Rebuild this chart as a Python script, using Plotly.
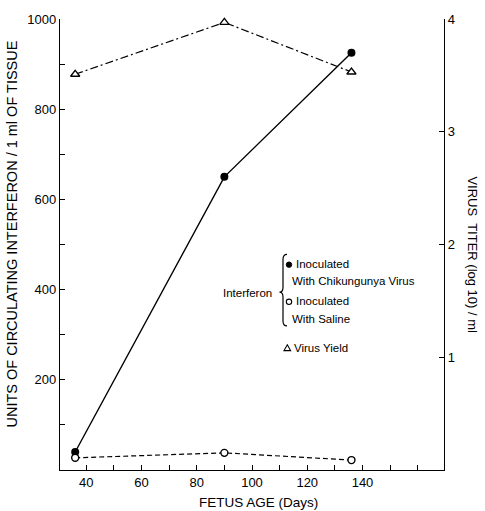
import plotly.graph_objects as go

# ---- data ----
fetus_age_days = [36, 90, 136]
interferon_chikungunya = [40, 650, 925]
interferon_saline = [27, 38, 22]
virus_yield_log10 = [3.51, 3.97, 3.53]

x_major_ticks = [40, 60, 80, 100, 120, 140]
y_left_ticks = [200, 400, 600, 800, 1000]
y_right_ticks = [1, 2, 3, 4]

FONT = "Liberation Sans, Arial, sans-serif"
W, H = 485, 511
L, R, T, B = 60, 41, 16, 41
PW, PH = W - L - R, H - T - B


def px(xp):
    return (xp - L) / PW


def py(yp):
    return (H - B - yp) / PH


fig = go.Figure()

fig.add_trace(go.Scatter(
    x=fetus_age_days, y=interferon_chikungunya, mode="lines+markers",
    line=dict(color="black", width=1.4),
    marker=dict(symbol="circle", size=8, color="black"),
    showlegend=False, cliponaxis=False))

fig.add_trace(go.Scatter(
    x=fetus_age_days, y=interferon_saline, mode="lines+markers",
    line=dict(color="black", width=1.2, dash="5px,3px"),
    marker=dict(symbol="circle", size=7, color="white",
                line=dict(color="black", width=1.4)),
    showlegend=False, cliponaxis=False))

fig.add_trace(go.Scatter(
    x=fetus_age_days, y=virus_yield_log10, mode="lines+markers", yaxis="y2",
    line=dict(color="black", width=1.2, dash="8px,3px,2px,3px"),
    marker=dict(symbol="triangle-up", size=8, color="white",
                line=dict(color="black", width=1.3)),
    showlegend=False, cliponaxis=False))

axis_common = dict(showgrid=False, zeroline=False, showline=True,
                   linecolor="black", linewidth=1.3, ticks="inside",
                   ticklen=5, tickwidth=1.2, tickcolor="black",
                   tickfont=dict(family=FONT, size=13, color="black"))

fig.update_layout(
    width=W, height=H,
    margin=dict(l=L, r=R, t=T, b=B, pad=0),
    paper_bgcolor="white", plot_bgcolor="white",
    font=dict(family=FONT, color="black"),
    xaxis=dict(range=[30.5, 169.5], tickvals=x_major_ticks,
               minor=dict(dtick=10, tick0=0, ticks="inside", ticklen=5,
                          tickwidth=1.2, tickcolor="black"),
               **axis_common),
    yaxis=dict(range=[0, 1000], tickvals=y_left_ticks,
               minor=dict(dtick=100, tick0=0, ticks="inside", ticklen=5,
                          tickwidth=1.2, tickcolor="black"),
               **axis_common),
    yaxis2=dict(range=[0, 4], overlaying="y", side="right",
                tickvals=y_right_ticks, **axis_common),
)

annotations = [
    dict(text="UNITS OF CIRCULATING INTERFERON / 1 ml OF TISSUE",
         x=px(12), y=py(233), textangle=-90, font=dict(size=14.5)),
    dict(text="VIRUS  TITER (log 10) / ml",
         x=px(473), y=py(253), textangle=90, font=dict(size=13)),
    dict(text="FETUS AGE (Days)", x=px(258), y=py(503), font=dict(size=13.5)),
    dict(text="Interferon", x=px(274), y=py(292), xanchor="right",
         font=dict(size=11.5)),
    dict(text="Inoculated", x=px(294), y=py(263), xanchor="left",
         font=dict(size=11.5)),
    dict(text="With Chikungunya Virus", x=px(290), y=py(280),
         xanchor="left", font=dict(size=11.5)),
    dict(text="Inoculated", x=px(294), y=py(300), xanchor="left",
         font=dict(size=11.5)),
    dict(text="With Saline", x=px(290), y=py(318), xanchor="left",
         font=dict(size=11.5)),
    dict(text="Virus Yield", x=px(292), y=py(347), xanchor="left",
         font=dict(size=11.5)),
]
for a in annotations:
    a.update(xref="paper", yref="paper", showarrow=False)
    a.setdefault("xanchor", "center")
    a["yanchor"] = "middle"
    a["font"] = dict(family=FONT, color="black", **a["font"])
fig.update_layout(annotations=annotations)


def pt(a, b):
    return f"{px(a):.5f},{py(b):.5f}"


brace = (f"M {pt(287, 253)} Q {pt(283, 253)} {pt(283, 258)} "
         f"L {pt(283, 286)} Q {pt(283, 291)} {pt(279.5, 291)} "
         f"Q {pt(283, 291)} {pt(283, 296)} L {pt(283, 320)} "
         f"Q {pt(283, 325)} {pt(287, 325)}")
tri = (f"M {pt(287.3, 344)} L {pt(290.6, 349.8)} "
       f"L {pt(284.0, 349.8)} Z")

shapes = [
    dict(type="path", path=brace, line=dict(color="black", width=1.2)),
    dict(type="circle", x0=px(286.3), x1=px(291.7), y0=py(260.6), y1=py(266),
         fillcolor="black", line=dict(color="black", width=1)),
    dict(type="circle", x0=px(286.3), x1=px(291.7), y0=py(298), y1=py(303.4),
         fillcolor="white", line=dict(color="black", width=1.1)),
    dict(type="path", path=tri, fillcolor="white",
         line=dict(color="black", width=1.1)),
]
for s in shapes:
    s.update(xref="paper", yref="paper", layer="above")
fig.update_layout(shapes=shapes)

fig.write_html("out.html",
               config={"displayModeBar": False},
               post_script="document.body.style.margin='0';"
                           "document.body.style.padding='0';")
